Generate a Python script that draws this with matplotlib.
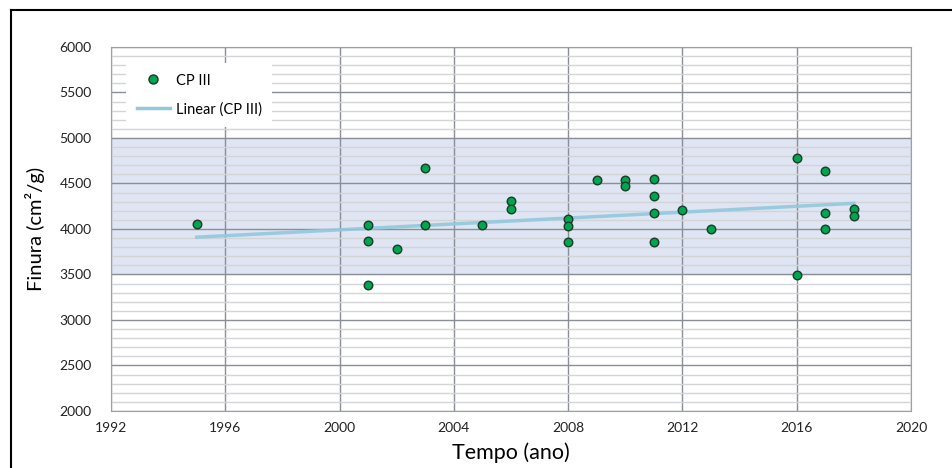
import numpy as np
import matplotlib.pyplot as plt
from matplotlib.lines import Line2D
from matplotlib.ticker import MultipleLocator

# dados (ano, finura)
anos = [1995, 2001, 2001, 2001, 2002, 2003, 2003, 2005, 2006, 2006,
        2008, 2008, 2008, 2009, 2010, 2010, 2011, 2011, 2011, 2011,
        2012, 2013, 2016, 2016, 2017, 2017, 2017, 2018, 2018]
finura = [4055, 4045, 3870, 3390, 3780, 4675, 4045, 4045, 4310, 4220,
          4115, 4030, 3860, 4540, 4540, 4475, 4550, 4365, 4180, 3860,
          4205, 3995, 4775, 3495, 4640, 4180, 3995, 4220, 4140]
tend_anos = [1995, 2018]
tend_finura = [3910, 4282]
faixa = (3500, 5000)
x_ticks = list(range(1992, 2021, 4))

plt.rcParams['font.family'] = ['Lato', 'DejaVu Sans']

fig = plt.figure(figsize=(9.52, 4.68), dpi=100)
ax = fig.add_axes([0.1166, 0.1218, 0.8404, 0.7778])

ax.axhspan(faixa[0], faixa[1], color='#dfe5f3', zorder=0)

ax.set_xlim(1992, 2020)
ax.set_ylim(2000, 6000)
ax.set_xticks(x_ticks)
ax.yaxis.set_major_locator(MultipleLocator(500))
ax.yaxis.set_minor_locator(MultipleLocator(100))
ax.grid(True, which='major', axis='both', color='#8a8e96', lw=1.0, zorder=1)
ax.grid(True, which='minor', axis='y', color='#d2d4d8', lw=1.0, zorder=1)
ax.tick_params(which='both', length=0, labelsize=10, colors='#222222')
ax.tick_params(axis='y', pad=14)
ax.tick_params(axis='x', pad=8)
for s in ax.spines.values():
    s.set_color('#a0a0a0')

ax.plot(tend_anos, tend_finura, color='#93c8dc', lw=2.5, zorder=3, alpha=0.9)

ax.scatter(anos, finura, s=38, color='#00a550', edgecolors='#1a3a2a',
           linewidths=1.0, zorder=4)

ax.set_xlabel('Tempo (ano)', fontsize=15.5, labelpad=6)
ax.set_ylabel('Finura (cm²/g)', fontsize=14.5, labelpad=10)

handles = [Line2D([], [], marker='o', ls='none', markersize=6.5, markerfacecolor='#00a550',
                  markeredgecolor='#1a3a2a', label='CP III'),
           Line2D([], [], color='#93c8dc', lw=2.5, label='Linear (CP III)')]
leg = ax.legend(handles=handles, loc='upper left', bbox_to_anchor=(0.01, 0.975),
                frameon=True, fancybox=False, fontsize=10.5, handlelength=2.3,
                handletextpad=0.4, labelspacing=1.0, borderpad=0.7)
leg.get_frame().set_facecolor('white')
leg.get_frame().set_edgecolor('none')
leg.get_frame().set_alpha(1)

# moldura externa
fig.add_artist(Line2D([11 / 952, 11 / 952], [0, 1 - 10 / 468], color='black', lw=1.5))
fig.add_artist(Line2D([11 / 952, 1], [1 - 10 / 468, 1 - 10 / 468], color='black', lw=1.5))

fig.savefig('out.png', dpi=100)
